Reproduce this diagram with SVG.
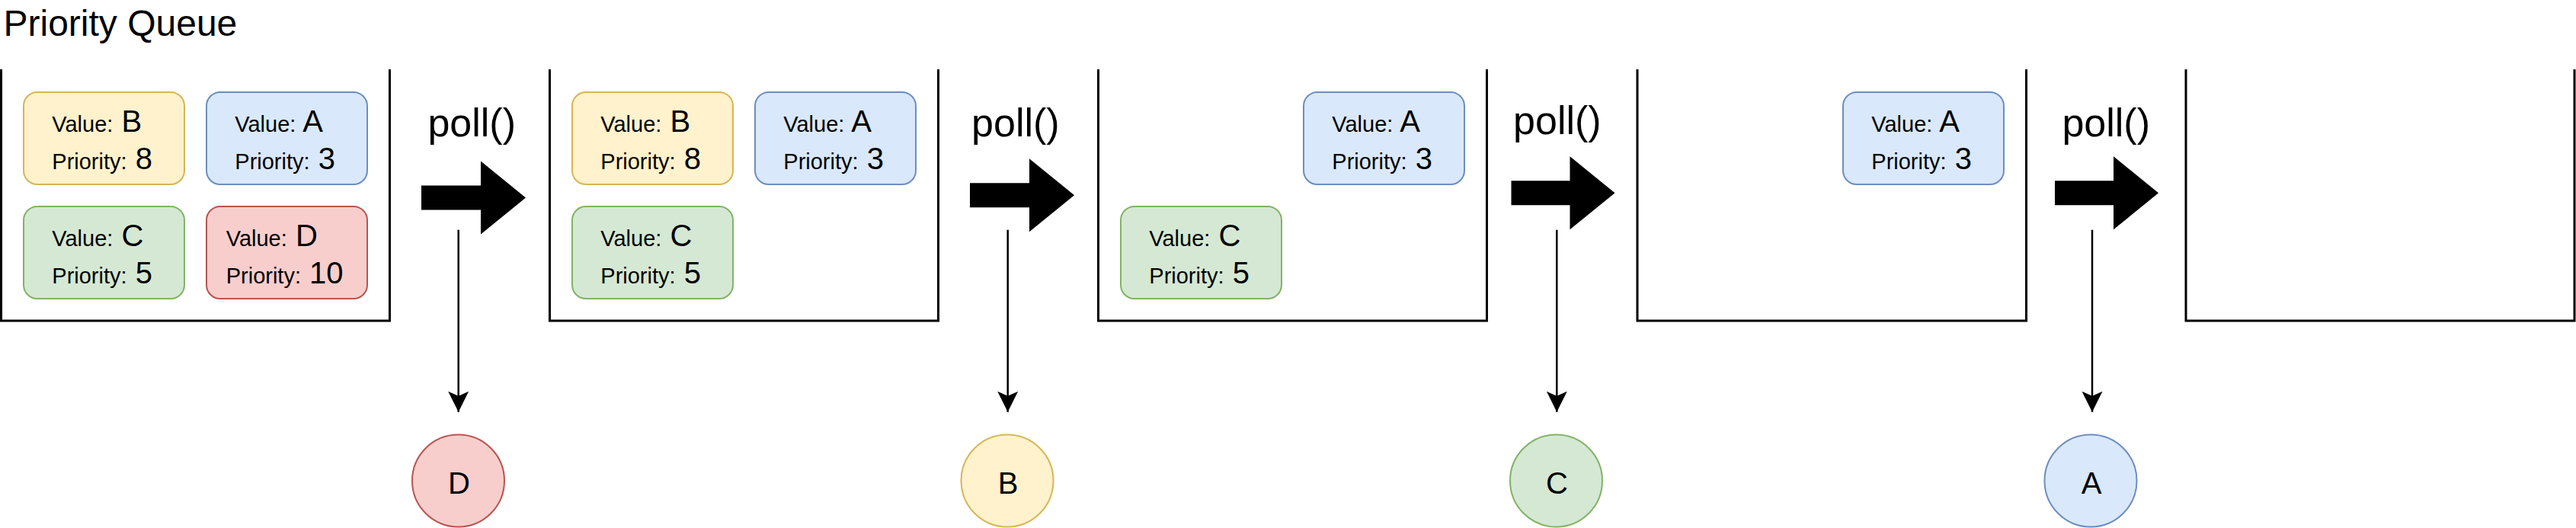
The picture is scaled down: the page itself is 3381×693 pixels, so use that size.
<svg xmlns="http://www.w3.org/2000/svg" width="3381" height="693" viewBox="0 0 3381 693">
<style>
text{font-family:"Liberation Sans",Arial,Helvetica,sans-serif;fill:#000}
.ct{fill:none;stroke:#000;stroke-width:3}
.s{font-size:29px}
.b{font-size:40px}
.poll{font-size:52px;text-anchor:middle}
.lbl{font-size:40px;text-anchor:middle}
.y{fill:#fff2cc;stroke:#d6b656;stroke-width:2}
.bl{fill:#dae8fc;stroke:#6c8ebf;stroke-width:2}
.g{fill:#d5e8d4;stroke:#82b366;stroke-width:2}
.r{fill:#f8cecc;stroke:#b85450;stroke-width:2}
.conn{fill:none;stroke:#000;stroke-width:2.5}
.barrow{fill:#000}
</style>
<defs>
<marker id="ah" viewBox="0 0 27 27" refX="27" refY="13.5" markerWidth="27" markerHeight="27" markerUnits="userSpaceOnUse" orient="auto">
<path d="M0,0 L27,13.5 L0,27 L6,13.5 Z" fill="#000"/>
</marker>
</defs>

<g id="title"><text x="4.5" y="47" font-size="48">Priority Queue</text></g>

<!-- Queue state 1 -->
<g id="queue1">
<path class="ct" d="M1.5,91 V421 H511.5 V91"/>
<g id="q1-B"><rect class="y" x="31" y="121" width="211" height="121" rx="18"/>
<text x="68.3" y="173.3"><tspan class="s">Value:</tspan><tspan class="b"> B</tspan></text>
<text x="68.3" y="221.7"><tspan class="s">Priority:</tspan><tspan class="b"> 8</tspan></text></g>
<g id="q1-A"><rect class="bl" x="271" y="121" width="211" height="121" rx="18"/>
<text x="308.3" y="173.3"><tspan class="s">Value:</tspan><tspan class="b"> A</tspan></text>
<text x="308.3" y="221.7"><tspan class="s">Priority:</tspan><tspan class="b"> 3</tspan></text></g>
<g id="q1-C"><rect class="g" x="31" y="271" width="211" height="121" rx="18"/>
<text x="68.3" y="323.3"><tspan class="s">Value:</tspan><tspan class="b"> C</tspan></text>
<text x="68.3" y="371.7"><tspan class="s">Priority:</tspan><tspan class="b"> 5</tspan></text></g>
<g id="q1-D"><rect class="r" x="271" y="271" width="211" height="121" rx="18"/>
<text x="296.7" y="323.3"><tspan class="s">Value:</tspan><tspan class="b"> D</tspan></text>
<text x="296.7" y="371.7"><tspan class="s">Priority:</tspan><tspan class="b"> 10</tspan></text></g>
</g>

<!-- Queue state 2 -->
<g id="queue2">
<path class="ct" d="M721.5,91 V421 H1231.5 V91"/>
<g id="q2-B"><rect class="y" x="751" y="121" width="211" height="121" rx="18"/>
<text x="788.3" y="173.3"><tspan class="s">Value:</tspan><tspan class="b"> B</tspan></text>
<text x="788.3" y="221.7"><tspan class="s">Priority:</tspan><tspan class="b"> 8</tspan></text></g>
<g id="q2-A"><rect class="bl" x="991" y="121" width="211" height="121" rx="18"/>
<text x="1028.3" y="173.3"><tspan class="s">Value:</tspan><tspan class="b"> A</tspan></text>
<text x="1028.3" y="221.7"><tspan class="s">Priority:</tspan><tspan class="b"> 3</tspan></text></g>
<g id="q2-C"><rect class="g" x="751" y="271" width="211" height="121" rx="18"/>
<text x="788.3" y="323.3"><tspan class="s">Value:</tspan><tspan class="b"> C</tspan></text>
<text x="788.3" y="371.7"><tspan class="s">Priority:</tspan><tspan class="b"> 5</tspan></text></g>
</g>

<!-- Queue state 3 -->
<g id="queue3">
<path class="ct" d="M1441.5,91 V421 H1951.5 V91"/>
<g id="q3-A"><rect class="bl" x="1711" y="121" width="211" height="121" rx="18"/>
<text x="1748.3" y="173.3"><tspan class="s">Value:</tspan><tspan class="b"> A</tspan></text>
<text x="1748.3" y="221.7"><tspan class="s">Priority:</tspan><tspan class="b"> 3</tspan></text></g>
<g id="q3-C"><rect class="g" x="1471" y="271" width="211" height="121" rx="18"/>
<text x="1508.3" y="323.3"><tspan class="s">Value:</tspan><tspan class="b"> C</tspan></text>
<text x="1508.3" y="371.7"><tspan class="s">Priority:</tspan><tspan class="b"> 5</tspan></text></g>
</g>

<!-- Queue state 4 -->
<g id="queue4">
<path class="ct" d="M2149,91 V421 H2659.5 V91"/>
<g id="q4-A"><rect class="bl" x="2419" y="121" width="211" height="121" rx="18"/>
<text x="2456.3" y="173.3"><tspan class="s">Value:</tspan><tspan class="b"> A</tspan></text>
<text x="2456.3" y="221.7"><tspan class="s">Priority:</tspan><tspan class="b"> 3</tspan></text></g>
</g>

<!-- Queue state 5 -->
<g id="queue5">
<path class="ct" d="M2869,91 V421 H3379 V91"/>
</g>

<!-- poll() steps -->
<g id="poll1">
<text class="poll" x="619.2" y="179.3">poll()</text>
<path class="barrow" d="M553,243.5 H631 V211.5 L690,259.5 L631,307.5 V275.5 H553 Z"/>
</g>
<g id="poll2">
<text class="poll" x="1332.9" y="179.3">poll()</text>
<path class="barrow" d="M1273,240.2 H1351 V208.2 L1410,256.2 L1351,304.2 V272.2 H1273 Z"/>
</g>
<g id="poll3">
<text class="poll" x="2043.9" y="176">poll()</text>
<path class="barrow" d="M1983.5,237.3 H2060.5 V205.3 L2119.5,253.3 L2060.5,301.3 V269.3 H1983.5 Z"/>
</g>
<g id="poll4">
<text class="poll" x="2764.2" y="179.3">poll()</text>
<path class="barrow" d="M2697,237.3 H2774 V205.3 L2833,253.3 L2774,301.3 V269.3 H2697 Z"/>
</g>

<!-- output circles -->
<g id="out-D"><circle class="r" cx="601.5" cy="631" r="60.5"/><text class="lbl" x="602.5" y="648.3">D</text></g>
<g id="out-B"><circle class="y" cx="1322" cy="631" r="60.5"/><text class="lbl" x="1323" y="648.3">B</text></g>
<g id="out-C"><circle class="g" cx="2042.5" cy="631" r="60.5"/><text class="lbl" x="2043.5" y="648.3">C</text></g>
<g id="out-A"><circle class="bl" cx="2744" cy="631" r="60.5"/><text class="lbl" x="2745" y="648.3">A</text></g>

<!-- connectors -->
<g id="connectors">
<line class="conn" x1="601.7" y1="301.7" x2="601.7" y2="540.7" marker-end="url(#ah)"/>
<line class="conn" x1="1322.7" y1="301.7" x2="1322.7" y2="540.7" marker-end="url(#ah)"/>
<line class="conn" x1="2043.3" y1="301.7" x2="2043.3" y2="540.7" marker-end="url(#ah)"/>
<line class="conn" x1="2746" y1="301.7" x2="2746" y2="540.7" marker-end="url(#ah)"/>
</g>
</svg>
